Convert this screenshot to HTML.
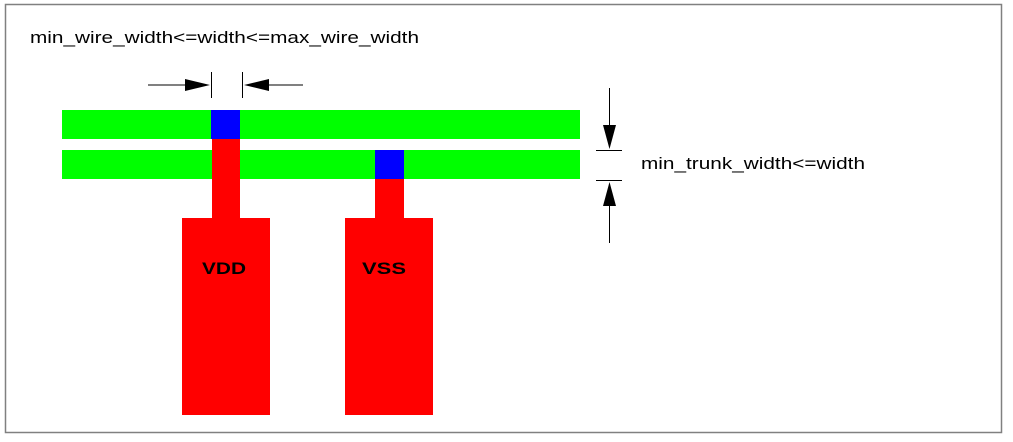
<!DOCTYPE html>
<html><head><style>
body{margin:0;background:#fff;}
svg{display:block;}
text{font-family:"Liberation Sans",Arial,sans-serif;}
</style></head><body>
<svg width="1013" height="442" viewBox="0 0 1013 442" xmlns="http://www.w3.org/2000/svg">
<rect x="0" y="0" width="1013" height="442" fill="#fff"/>
<rect x="5.5" y="4.5" width="996" height="428" fill="none" stroke="#808080" stroke-width="1.5"/>
<text x="30" y="43" font-size="17" textLength="389" lengthAdjust="spacingAndGlyphs" fill="#000">min_wire_width&lt;=width&lt;=max_wire_width</text>
<text x="641" y="169" font-size="17" textLength="224" lengthAdjust="spacingAndGlyphs" fill="#000">min_trunk_width&lt;=width</text>
<rect x="62" y="110" width="518" height="29" fill="#00ff00"/>
<rect x="62" y="150" width="518" height="29" fill="#00ff00"/>
<rect x="212" y="139" width="28" height="80" fill="#ff0000"/>
<rect x="182" y="218" width="88" height="197" fill="#ff0000"/>
<rect x="375" y="179" width="29" height="40" fill="#ff0000"/>
<rect x="345" y="218" width="88" height="197" fill="#ff0000"/>
<rect x="211" y="110" width="29" height="29" fill="#0000ff"/>
<rect x="375" y="150" width="29" height="29" fill="#0000ff"/>
<text x="202" y="274" font-size="17" font-weight="bold" textLength="44" lengthAdjust="spacingAndGlyphs" fill="#000">VDD</text>
<text x="362" y="274" font-size="17" font-weight="bold" textLength="44" lengthAdjust="spacingAndGlyphs" fill="#000">VSS</text>
<g stroke="#000" stroke-width="1">
<line x1="148" y1="85" x2="190" y2="85"/>
<line x1="260" y1="85" x2="303" y2="85"/>
<line x1="211.5" y1="72" x2="211.5" y2="98"/>
<line x1="242.5" y1="72" x2="242.5" y2="98"/>
<line x1="609.5" y1="88" x2="609.5" y2="130"/>
<line x1="609.5" y1="200" x2="609.5" y2="243"/>
<line x1="596" y1="150.5" x2="622" y2="150.5"/>
<line x1="596" y1="180.5" x2="622" y2="180.5"/>
</g>
<polygon points="185,79 210,85 185,91" fill="#000"/>
<polygon points="269,79 244,85 269,91" fill="#000"/>
<polygon points="603,125 609.5,149 616,125" fill="#000"/>
<polygon points="603,206 609.5,182 616,206" fill="#000"/>
</svg>
</body></html>
